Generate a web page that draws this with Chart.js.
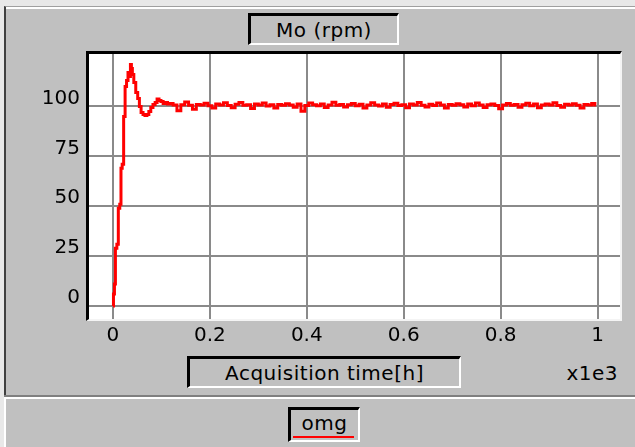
<!DOCTYPE html>
<html>
<head>
<meta charset="utf-8">
<script src="https://cdn.jsdelivr.net/npm/chart.js@4/dist/chart.umd.min.js"></script>
<style>
  html, body { margin: 0; padding: 0; }
  body { width: 635px; height: 447px; background: #e8e8e8; position: relative; overflow: hidden;
         font-family: "DejaVu Sans", sans-serif; color: #000; }
  .panel { position: absolute; background: #c0c0c0; }
  .box { position: absolute; box-sizing: border-box; background: #c0c0c0;
         border-top: 3px solid #000; border-left: 3px solid #000;
         border-right: 2px solid #fff; border-bottom: 2px solid #fff;
         font-size: 20px; letter-spacing: 0.5px; display: flex; align-items: center; justify-content: center; }
  #plotBg { position: absolute; left: 86px; top: 51px; width: 536px; height: 270px; box-sizing: border-box;
            background: #fff; border-top: 3px solid #000; border-left: 3px solid #000;
            border-right: 2px solid #f4f4f4; border-bottom: 2px solid #f4f4f4; }
  #chart { position: absolute; left: 0; top: 0; }
</style>
</head>
<body>
<div class="panel" style="left:4px; top:6px; width:631px; height:389px; border-top:1px solid #a0a0a0; border-left:2px solid #404040; box-sizing:border-box;"></div>
<div style="position:absolute; left:6px; top:7px; width:629px; height:2px; background:#fff;"></div>
<div style="position:absolute; left:4px; top:395px; width:631px; height:2px; background:#808080;"></div>
<div class="panel" style="left:4px; top:397px; width:631px; height:50px; border-top:2px solid #fff; border-left:2px solid #fff; box-sizing:border-box;"></div>

<div class="box" style="left:248px; top:13px; width:151px; height:32px;">Mo (rpm)</div>
<div id="plotBg"></div>
<div class="box" style="left:187px; top:356px; width:274px; height:32px;">Acquisition time[h]</div>
<div style="position:absolute; right:17px; top:361px; font-size:20px; letter-spacing:0.5px;">x1e3</div>
<div class="box" style="left:288px; top:407px; width:72px; height:35px; padding-bottom:4px;">omg</div>
<div style="position:absolute; left:293px; top:436px; width:61px; height:2px; background:#ff0000;"></div>

<canvas id="chart" width="635" height="447"></canvas>

<script>
const xTicks = [0, 0.2, 0.4, 0.6, 0.8, 1];
const xTickLabels = ['0', '0.2', '0.4', '0.6', '0.8', '1'];
const yTicks = [0, 25, 50, 75, 100];

// acquisition time (x1e3 h) and rotor speed Mo (rpm)
const time = [
  0.000, 0.002, 0.004, 0.006, 0.010, 0.012, 0.016, 0.017, 0.021, 0.023,
  0.027, 0.029, 0.033, 0.035, 0.037, 0.039, 0.041, 0.045, 0.049, 0.053,
  0.056, 0.060, 0.064, 0.068, 0.072, 0.076, 0.080, 0.085, 0.089, 0.093,
  0.097, 0.101, 0.106, 0.110, 0.115,
  0.120, 0.128, 0.136, 0.144, 0.152, 0.160, 0.168, 0.176, 0.184, 0.192,
  0.200, 0.208, 0.216, 0.224, 0.232, 0.240, 0.248, 0.256, 0.264, 0.272,
  0.280, 0.288, 0.296, 0.304, 0.312, 0.320, 0.328, 0.336, 0.344, 0.352,
  0.360, 0.368, 0.376, 0.384, 0.392, 0.400, 0.408, 0.416, 0.424, 0.432,
  0.440, 0.448, 0.456, 0.464, 0.472, 0.480, 0.488, 0.496, 0.504, 0.512,
  0.520, 0.528, 0.536, 0.544, 0.552, 0.560, 0.568, 0.576, 0.584, 0.592,
  0.600, 0.608, 0.616, 0.624, 0.632, 0.640, 0.648, 0.656, 0.664, 0.672,
  0.680, 0.688, 0.696, 0.704, 0.712, 0.720, 0.728, 0.736, 0.744, 0.752,
  0.760, 0.768, 0.776, 0.784, 0.792, 0.800, 0.808, 0.816, 0.824, 0.832,
  0.840, 0.848, 0.856, 0.864, 0.872, 0.880, 0.888, 0.896, 0.904, 0.912,
  0.920, 0.928, 0.936, 0.944, 0.952, 0.960, 0.968, 0.976, 0.984, 0.992,
  0.997
];
const speed = [
  0, 6, 11, 29, 31, 49, 51, 69, 71, 95,
  110, 113, 117, 115, 121, 119, 116, 112, 107, 104,
  100, 97, 96, 95.5, 96, 97.5, 99.5, 101, 102, 103.8,
  103, 102.5, 101.5, 102, 101.2,
  101.5, 100.8, 97.8, 100.9, 102.3, 100.6, 98.6, 101.0, 100.7, 101.6,
  100.4, 99.2, 101.2, 100.8, 101.9, 100.5, 99.4, 101.1, 102.0, 100.6,
  100.9, 99.0, 101.3, 100.7, 101.8, 100.3, 100.9, 99.3, 101.0, 100.6,
  101.4, 100.8, 99.6, 101.2, 97.6, 100.5, 101.7, 100.9, 100.4, 101.3,
  99.5, 100.8, 102.1, 100.6, 101.0, 99.7, 100.9, 101.5, 100.4, 101.1,
  99.2, 100.7, 101.9, 100.8, 100.3, 101.2, 99.6, 101.0, 101.6, 100.5,
  100.9, 99.4, 101.3, 100.7, 102.0, 100.6, 99.8, 101.1, 100.5, 101.7,
  100.8, 99.3, 101.0, 100.6, 101.4, 100.9, 99.7, 101.2, 100.4, 101.8,
  100.7, 99.5, 100.9, 101.3, 100.5, 98.9, 100.8, 101.5, 100.6, 101.0,
  99.6, 100.9, 101.6, 100.4, 101.2, 99.4, 100.7, 101.3, 100.8, 101.9,
  100.5, 99.6, 101.1, 100.7, 101.4, 100.6, 99.2, 101.0, 100.8, 101.5,
  100.7
];

const tickFont = { family: 'DejaVu Sans', size: 20 };

new Chart(document.getElementById('chart'), {
  type: 'line',
  data: {
    datasets: [{
      label: 'omg',
      data: time.map((t, i) => ({ x: t, y: speed[i] })),
      borderColor: '#ff0000',
      borderWidth: 3,
      pointRadius: 0,
      stepped: 'middle',
      fill: false
    }]
  },
  options: {
    responsive: false,
    animation: false,
    devicePixelRatio: 1,
    layout: { padding: { left: 0, top: 54, right: 15, bottom: 88 } },
    plugins: { legend: { display: false }, tooltip: { enabled: false } },
    scales: {
      x: {
        type: 'linear',
        min: -0.0495,
        max: 1.0464,
        afterBuildTicks: (s) => { s.ticks = xTicks.map(v => ({ value: v })); },
        afterFit: (s) => { s.height = 40; },
        ticks: {
          color: '#000',
          font: tickFont,
          padding: 5,
          maxRotation: 0,
          autoSkip: false,
          callback: (v, i) => xTickLabels[i]
        },
        grid: { color: '#8a8a8a', lineWidth: 2, drawTicks: false },
        border: { display: false }
      },
      y: {
        min: -6.5,
        max: 126.3,
        afterBuildTicks: (s) => { s.ticks = yTicks.map(v => ({ value: v })); },
        afterFit: (s) => { s.width = 89; },
        ticks: {
          color: '#000',
          font: tickFont,
          padding: 9,
          labelOffset: -8,
          callback: (v) => String(v)
        },
        grid: { color: '#8a8a8a', lineWidth: 2, drawTicks: false },
        border: { display: false }
      }
    }
  }
});
</script>
</body>
</html>
